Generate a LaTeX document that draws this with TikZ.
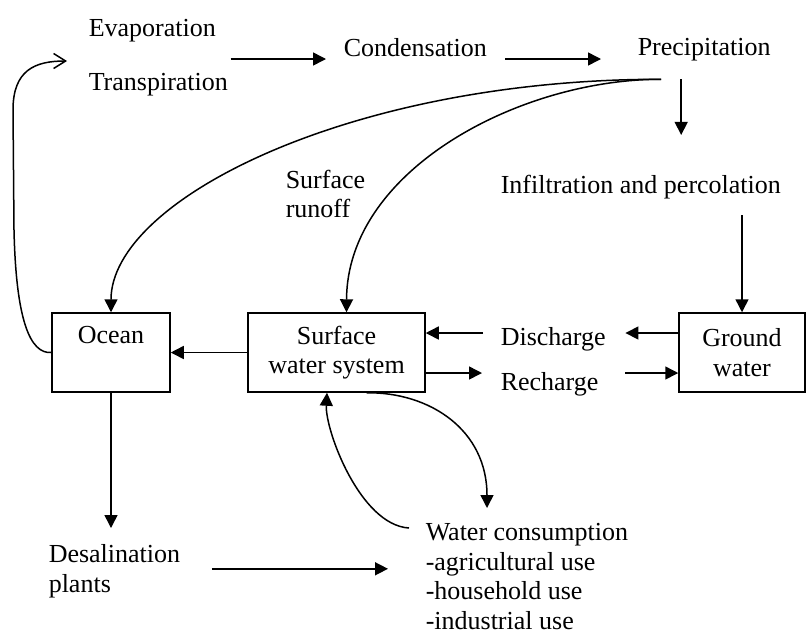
\documentclass[tikz,border=0pt]{standalone}
\usepackage{fontspec}
\setmainfont{Liberation Serif}
\usepackage{tikz}
\usetikzlibrary{arrows.meta,positioning}

\begin{document}
\begin{tikzpicture}[x=0.5pt,y=-0.5pt,->,>={Triangle[length=6.5pt,width=6.5pt]},line width=0.75pt,
  every node/.style={font=\fontsize{13}{14.75}\selectfont,inner sep=0pt}]
\tikzstyle{box}=[draw,align=center,minimum height=39.5pt]
\tikzstyle{txt}=[align=left]
\useasboundingbox (0,0) rectangle (806,633);

\node[txt,anchor=west]       (evap)    at (88,58)    {Evaporation\\[12.25pt]Transpiration};
\node[anchor=base west]      (cond)    at (343,56)   {Condensation};
\node[anchor=base west]      (precip)  at (637,55)   {Precipitation};
\node[anchor=base west]      (infil)   at (500,193)  {Infiltration and percolation};
\node[txt,anchor=north west] (runoff)  at (285,169)  {Surface\\runoff};
\node[box,minimum width=59pt]   (ocean)   at (111,352.5)   {Ocean\\\phantom{y}};
\node[box,minimum width=88.5pt] (surface) at (336.5,352.5) {Surface\\water system};
\node[box,minimum width=63pt]   (ground)  at (742,352.5)   {Ground\\water};
\node[anchor=base west]      (dis)     at (500,345)  {Discharge};
\node[anchor=base west]      (rec)     at (500,390)  {Recharge};
\node[txt,anchor=north west] (desal)   at (48,544)   {Desalination\\plants};
\node[txt,anchor=north west] (water)   at (425,523)  {Water consumption\\-agricultural use\\-household use\\-industrial use};
\coordinate (rain) at ([shift={(-43,18)}]precip.south);

% atmosphere
\draw[-{Straight Barb[length=6pt,width=7.5pt]}] (ocean.west) .. controls (30,354) and (16,320) .. (14,230)
  -- (13,110) .. controls (13,70) and (35,61) .. ([shift={(-21,3)}]evap.west);
\draw[shorten <=1pt,shorten >=8.5pt] ([yshift=-0.5pt]evap.east) -- ([yshift=-0.5pt]evap.east -| cond.west);
\draw[shorten <=9pt,shorten >=18pt] ([yshift=-1.5pt]cond.base east) -- ([yshift=-1.5pt]cond.base east -| precip.west);

% runoff and infiltration
\draw (rain) .. controls (350,79) and (111,200) .. (ocean.north);
\draw (rain) .. controls (520,79) and (347,170) .. ([xshift=5pt]surface.north);
\draw[shorten <=9pt,shorten >=19.5pt] ([xshift=-11.5pt]precip.south) -- ([xshift=-11.5pt]precip.south |- infil.north);
\draw[shorten <=8pt] (infil.south -| ground.north) -- (ground.north);

% exchange between the boxes
\draw (surface) -- (ocean);
\draw[shorten >=9.5pt] ([yshift=9.75pt]ground.west) -- ([yshift=9.75pt]ground.west -| dis.east);
\draw[shorten <=8.5pt] ([yshift=9.75pt]surface.east -| dis.west) -- ([yshift=9.75pt]surface.east);
\draw[shorten >=9pt] ([yshift=-10.25pt]surface.east) -- ([yshift=-10.25pt]surface.east -| rec.west);
\draw[shorten <=13pt] ([yshift=-10.25pt]ground.west -| rec.east) -- ([yshift=-10.25pt]ground.west);

% use
\draw[shorten >=8pt] (ocean.south) -- (ocean.south |- desal.north);
\draw[shorten <=15.5pt,shorten >=18.5pt] ([yshift=1.25pt]desal.east) -- ([yshift=1.25pt]desal.east -| water.west);
\draw ([shift={(-16,5)}]water.north west) .. controls (360,525) and (325,430) .. ([xshift=-4.75pt]surface.south);
\draw ([xshift=15pt]surface.south) .. controls (430,392) and (487,430) .. ([shift={(62,-15)}]water.north west);
\end{tikzpicture}
\end{document}
